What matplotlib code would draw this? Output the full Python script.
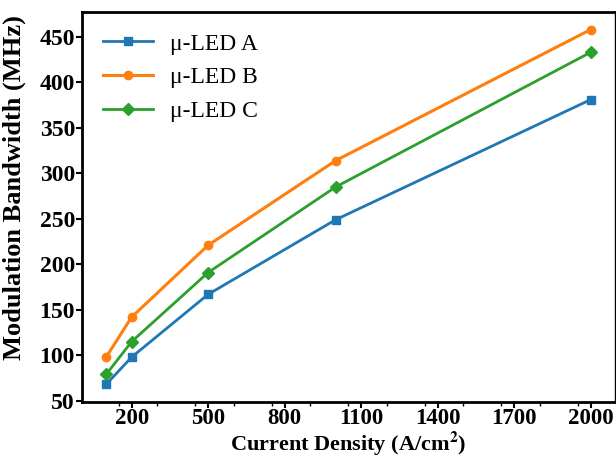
import matplotlib
matplotlib.use("Agg")
import matplotlib.pyplot as plt
from matplotlib.ticker import MultipleLocator

# dados
densidade = [100, 200, 500, 1000, 2000]
banda_a = [68, 98, 167, 249, 381]
banda_b = [98, 142, 221, 314, 458]
banda_c = [79, 115, 191, 285, 433]
rotulos = ["\u03bc-LED A", "\u03bc-LED B", "\u03bc-LED C"]
xticks = [200, 500, 800, 1100, 1400, 1700, 2000]
yticks = [50, 100, 150, 200, 250, 300, 350, 400, 450]

plt.rcParams['font.family'] = ['Liberation Serif', 'DejaVu Serif']
plt.rcParams['mathtext.fontset'] = 'stix'

fig = plt.figure(figsize=(6.16, 4.57), dpi=100)
ax = fig.add_axes([0.133, 0.12, 0.865, 0.854])

ax.plot(densidade, banda_a, marker='s', markersize=6, lw=2, color='#1f77b4', label=rotulos[0])
ax.plot(densidade, banda_b, marker='o', markersize=6, lw=2.2, color='#ff7f0e', label=rotulos[1])
ax.plot(densidade, banda_c, marker='D', markersize=6, lw=2, color='#2ca02c', label=rotulos[2])

ax.set_xticks(xticks)
ax.set_yticks(yticks)
ax.xaxis.set_minor_locator(MultipleLocator(150))
ax.tick_params(axis='both', labelsize=17, width=1.5, length=4, pad=1)
ax.tick_params(axis='x', pad=0.3, labelsize=16.5)
ax.tick_params(axis='x', which='minor', width=1, length=3)
for lab in ax.get_xticklabels() + ax.get_yticklabels():
    lab.set_fontweight('bold')

for s in ['left', 'bottom', 'top']:
    ax.spines[s].set_linewidth(2)
ax.spines['right'].set_linewidth(1)

ax.set_xlabel("Current Density (A/cm$^\\mathbf{2}$)", fontsize=16, fontweight='bold')
ax.xaxis.set_label_coords(0.5, -0.07)
ax.set_ylabel("Modulation Bandwidth (MHz)", fontsize=19, fontweight='bold')
ax.yaxis.set_label_coords(-0.105, 0.55)

ax.legend(loc='upper left', frameon=False, fontsize=17, handlelength=2.1,
          borderaxespad=0.5, labelspacing=0.52, handletextpad=0.75)

fig.savefig("out.png", dpi=100)
